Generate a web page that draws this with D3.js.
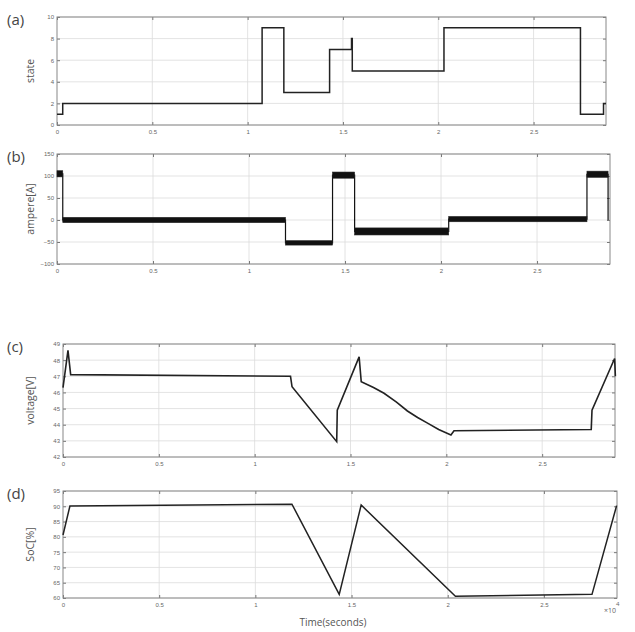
<!DOCTYPE html>
<html>
<head>
<meta charset="utf-8">
<script src="https://cdn.jsdelivr.net/npm/d3@7"></script>
<style>
  body { margin: 0; background: #fff; }
  svg { display: block; font-family: "Open Sans", "DejaVu Sans", sans-serif; }
  .tick text { fill: #666; font-size: 6px; }
  .domain { display: none; }
  .tick line { stroke: #777; }
</style>
</head>
<body>
<div id="chart"></div>
<script>
// time axis (x 10^4 seconds)
var xTicks = [0, 0.5, 1, 1.5, 2, 2.5];
var tMax = 2.88;

// (a) state, stepwise
var stateT = [0, 0.03, 1.076, 1.19, 1.43, 1.545, 1.549, 2.03, 2.746, 2.867, 2.88];
var stateV = [1, 2, 9, 3, 7, 8, 5, 9, 1, 2, 2];
var stateTicks = [0, 2, 4, 6, 8, 10];

// (b) current, noisy plateaus
var ampStart = [0, 0.03, 1.19, 1.435, 1.55, 2.04, 2.76, 2.87];
var ampEnd = [0.03, 1.19, 1.435, 1.55, 2.04, 2.76, 2.87, 2.88];
var ampLevel = [105, 0, -52, 102, -26, 2, 104, 0];
var ampSpread = [7, 6, 5, 7, 8, 6, 7, 0];
var ampTicks = [-100, -50, 0, 50, 100, 150];

// (c) voltage
var voltT = [0, 0.026, 0.04, 1.187, 1.195, 1.428, 1.431, 1.545, 1.556, 1.62, 1.675, 1.74, 1.797, 1.85, 1.902, 1.96, 2.024, 2.04, 2.756, 2.76, 2.878, 2.882];
var voltV = [46.3, 48.6, 47.1, 47.0, 46.35, 42.95, 44.9, 48.2, 46.67, 46.3, 45.95, 45.4, 44.85, 44.45, 44.1, 43.7, 43.36, 43.63, 43.7, 44.9, 48.1, 47.0];
var voltTicks = [42, 43, 44, 45, 46, 47, 48, 49];

// (d) state of charge
var socT = [0, 0.036, 1.19, 1.436, 1.55, 2.04, 2.75, 2.878];
var socV = [80.6, 90.1, 90.7, 61.2, 90.4, 60.6, 61.2, 90.2];
var socTicks = [60, 65, 70, 75, 80, 85, 90, 95];

var svg = d3.select("#chart").append("svg")
    .attr("width", 635)
    .attr("height", 632);

function panel(box, yDomain, yTicks, tag, ylabel) {
    var x = d3.scaleLinear().domain([0, tMax]).range([box.left, box.right]);
    var y = d3.scaleLinear().domain(yDomain).range([box.bottom, box.top]);
    var g = svg.append("g");

    // grid
    g.selectAll(".gx").data(xTicks.slice(1)).enter().append("line")
        .attr("x1", function (d) { return x(d); }).attr("x2", function (d) { return x(d); })
        .attr("y1", box.top).attr("y2", box.bottom)
        .attr("stroke", "#dcdcdc").attr("stroke-width", 0.8);
    g.selectAll(".gy").data(yTicks).enter().append("line")
        .attr("x1", box.left).attr("x2", box.right)
        .attr("y1", function (d) { return y(d); }).attr("y2", function (d) { return y(d); })
        .attr("stroke", "#dcdcdc").attr("stroke-width", 0.8);

    // axes with inward ticks
    g.append("g").attr("transform", "translate(0," + box.bottom + ")")
        .call(d3.axisBottom(x).tickValues(xTicks).tickSize(-3).tickPadding(5).tickFormat(d3.format("~g")));
    g.append("g").attr("transform", "translate(0," + box.top + ")")
        .call(d3.axisTop(x).tickValues(xTicks).tickSize(-3).tickFormat(""));
    g.append("g").attr("transform", "translate(" + box.left + ",0)")
        .call(d3.axisLeft(y).tickValues(yTicks).tickSize(-3).tickPadding(3).tickFormat(d3.format("~g")));
    g.append("g").attr("transform", "translate(" + box.right + ",0)")
        .call(d3.axisRight(y).tickValues(yTicks).tickSize(-3).tickFormat(""));

    g.append("rect")
        .attr("x", box.left).attr("y", box.top)
        .attr("width", box.right - box.left).attr("height", box.bottom - box.top)
        .attr("fill", "none").attr("stroke", "#888").attr("stroke-width", 1);

    svg.append("text").attr("x", 7).attr("y", box.top + 8)
        .attr("font-size", 15).attr("fill", "#444").text(tag);
    svg.append("text")
        .attr("transform", "translate(" + 34 + "," + ((box.top + box.bottom) / 2) + ") rotate(-90)")
        .attr("text-anchor", "middle").attr("font-size", 10.5).attr("fill", "#555").text(ylabel);

    return { x: x, y: y, g: g };
}

// (a)
var pa = panel({ left: 57, right: 606, top: 17, bottom: 125 }, [0, 10], stateTicks, "(a)", "state");
pa.g.append("path")
    .datum(d3.range(stateT.length))
    .attr("fill", "none").attr("stroke", "#222").attr("stroke-width", 1.5)
    .attr("d", d3.line().curve(d3.curveStepAfter)
        .x(function (i) { return pa.x(stateT[i]); })
        .y(function (i) { return pa.y(stateV[i]); }));

// (b)
var pb = panel({ left: 57, right: 610, top: 154, bottom: 264 }, [-100, 150], ampTicks, "(b)", "ampere[A]");
var stepIdx = d3.range(ampStart.length);
pb.g.append("path")
    .datum(stepIdx)
    .attr("fill", "none").attr("stroke", "#111").attr("stroke-width", 1.2)
    .attr("d", d3.line().curve(d3.curveStepAfter)
        .x(function (i) { return pb.x(ampStart[i]); })
        .y(function (i) { return pb.y(ampLevel[i]); }));
pb.g.selectAll(".band").data(stepIdx).enter().append("rect")
    .attr("x", function (i) { return pb.x(ampStart[i]); })
    .attr("width", function (i) { return pb.x(ampEnd[i]) - pb.x(ampStart[i]); })
    .attr("y", function (i) { return pb.y(ampLevel[i] + ampSpread[i]); })
    .attr("height", function (i) { return pb.y(ampLevel[i] - ampSpread[i]) - pb.y(ampLevel[i] + ampSpread[i]); })
    .attr("fill", "#111").attr("stroke", "#222").attr("stroke-width", 0.6);

// (c)
var pc = panel({ left: 63, right: 615, top: 344, bottom: 457 }, [42, 49], voltTicks, "(c)", "voltage[V]");
pc.g.append("path")
    .datum(d3.range(voltT.length))
    .attr("fill", "none").attr("stroke", "#222").attr("stroke-width", 1.6)
    .attr("d", d3.line()
        .x(function (i) { return pc.x(voltT[i]); })
        .y(function (i) { return pc.y(voltV[i]); }));

// (d)
var pd = panel({ left: 63, right: 617, top: 491, bottom: 598 }, [60, 95], socTicks, "(d)", "SoC[%]");
pd.g.append("path")
    .datum(d3.range(socT.length))
    .attr("fill", "none").attr("stroke", "#222").attr("stroke-width", 1.5)
    .attr("d", d3.line()
        .x(function (i) { return pd.x(socT[i]); })
        .y(function (i) { return pd.y(socV[i]); }));

svg.append("text").attr("x", 333).attr("y", 626)
    .attr("text-anchor", "middle").attr("font-size", 10).attr("fill", "#555")
    .text("Time(seconds)");
var ex = svg.append("text").attr("x", 604).attr("y", 613).attr("font-size", 7).attr("fill", "#666");
ex.append("tspan").text("\u00d710");
ex.append("tspan").attr("dy", -7).attr("font-size", 6).text("4");
</script>
</body>
</html>
